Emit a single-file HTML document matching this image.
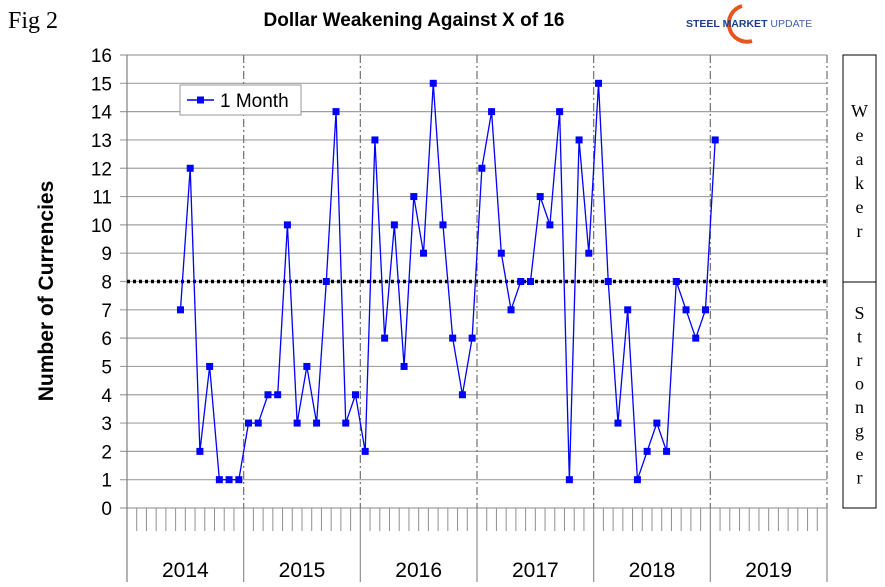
<!DOCTYPE html>
<html><head><meta charset="utf-8"><style>
body{margin:0;background:#fff;}
svg{display:block;font-family:"Liberation Sans",sans-serif;}
</style></head><body>
<svg id="chart" width="885" height="587" viewBox="0 0 885 587">
<text x="8" y="28" font-family="Liberation Serif,serif" font-size="24">Fig 2</text>
<text x="414" y="26" text-anchor="middle" font-size="19" font-weight="bold">Dollar Weakening Against X of 16</text>
<g>
<path d="M742 6 A18 18 0 1 0 752 41" fill="none" stroke="#e8541e" stroke-width="4"/>
<text x="686" y="27" font-size="10.5" font-weight="bold" fill="#1a3f8f">STEEL MARKET <tspan font-weight="normal" fill="#3a63b5">UPDATE</tspan></text>
</g>
<text transform="translate(53,291) rotate(-90)" text-anchor="middle" font-size="21" font-weight="bold">Number of Currencies</text>
<g id="grid"></g>
<g id="marks"></g>
<g>
<rect x="180" y="85" width="121" height="30" fill="#fff" stroke="#999"/>
<line x1="187" y1="100" x2="214" y2="100" stroke="#0000ff" stroke-width="1.5"/>
<rect x="197" y="96.5" width="7" height="7" fill="#0000ff"/>
<text x="220" y="107" font-size="19">1 Month</text>
</g>
<g>
<rect x="843" y="55" width="33" height="453" fill="#fff" stroke="#000"/>
<line x1="843" y1="282" x2="876" y2="282" stroke="#000"/>
</g>
</svg>
<script>
const yearLabels=["2014","2015","2016","2017","2018","2019"];
const startMonth=5;
const values=[7,12,2,5,1,1,1,3,3,4,4,10,3,5,3,8,14,3,4,2,13,6,10,5,11,9,15,10,6,4,6,12,14,9,7,8,8,11,10,14,1,13,9,15,8,3,7,1,2,3,2,8,7,6,7,13];
const yTicks=[0,1,2,3,4,5,6,7,8,9,10,11,12,13,14,15,16];
const threshold=8;
const weakerLetters=["W","e","a","k","e","r"];
const strongerLetters=["S","t","r","o","n","g","e","r"];

const NS="http://www.w3.org/2000/svg";
const X0=127,X1=827,Y0=508,Y1=55;
const months=yearLabels.length*12;
const mw=(X1-X0)/months;
const xm=i=>X0+(i+0.5)*mw;
const xb=i=>X0+i*mw;
const y=v=>Y0-(v/16)*(Y0-Y1);
function mk(p,tag,a){const e=document.createElementNS(NS,tag);for(const k in a)e.setAttribute(k,a[k]);p.appendChild(e);return e;}
const grid=document.getElementById('grid'),marks=document.getElementById('marks'),svg=document.getElementById('chart');

yTicks.forEach(t=>{
  const l=mk(grid,'line',{x1:120,x2:X1,y1:y(t),y2:y(t),stroke:'#a0a0a0','stroke-width':1.2});
  
  
  const tx=mk(grid,'text',{x:112,y:y(t)+7,'text-anchor':'end','font-size':19});
  tx.textContent=t;
  
  
});
mk(grid,'line',{x1:X0,x2:X0,y1:Y1,y2:582,stroke:'#808080','stroke-width':1.2});
for(let i=1;i<months;i++){
  if(i%12===0)continue;
  mk(grid,'line',{x1:xb(i),x2:xb(i),y1:Y0,y2:531,stroke:'#909090','stroke-width':1});
}
yearLabels.forEach((yl,k)=>{
  const bx=xb((k+1)*12);
  const l=mk(grid,'line',{x1:bx,x2:bx,y1:Y1,y2:Y0,stroke:'#707070','stroke-width':1.2,'stroke-dasharray':'8,3,2,3'});
  
  
  mk(grid,'line',{x1:bx,x2:bx,y1:Y0,y2:582,stroke:'#909090','stroke-width':1.2});
  const t=mk(grid,'text',{x:xm(k*12+5.5),y:577,'text-anchor':'middle','font-size':21});
  t.textContent=yl;
  
  
});
const th=mk(grid,'line',{x1:X0,x2:X1,y1:y(threshold),y2:y(threshold),stroke:'#000','stroke-width':3.5,'stroke-dasharray':'3,3'});



const pts=values.map((v,i)=>xm(startMonth+i)+','+y(v)).join(' ');
const pl=mk(marks,'polyline',{points:pts,fill:'none',stroke:'#0000ff','stroke-width':1.3});


values.forEach((v,i)=>{
  const r=mk(marks,'rect',{x:xm(startMonth+i)-3.5,y:y(v)-3.5,width:7,height:7,fill:'#0000ff'});
  
  
});
weakerLetters.forEach((c,i)=>{
  const t=mk(svg,'text',{x:859.5,y:117+i*24,'text-anchor':'middle','font-size':18,'font-family':'Liberation Serif,serif'});
  t.textContent=c;
  
  
});
strongerLetters.forEach((c,i)=>{
  const t=mk(svg,'text',{x:859.5,y:319+i*23.5,'text-anchor':'middle','font-size':18,'font-family':'Liberation Serif,serif'});
  t.textContent=c;
  
  
});
</script>
</body></html>
